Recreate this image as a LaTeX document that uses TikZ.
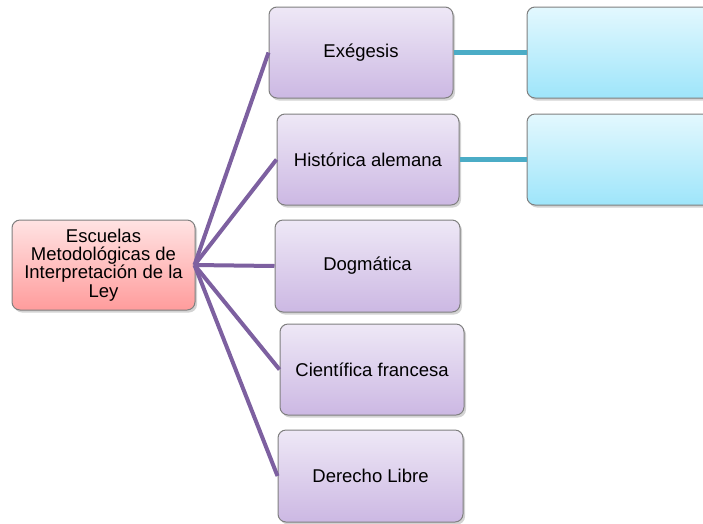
\documentclass[tikz,border=0pt]{standalone}
\usepackage{fontspec}
\setmainfont{Liberation Sans}
\usetikzlibrary{shadows}
\definecolor{purpTop}{HTML}{EEE8F6}
\definecolor{purpBot}{HTML}{CCB8E3}
\definecolor{pinkTop}{HTML}{FFE3E3}
\definecolor{pinkBot}{HTML}{FF9C9C}
\definecolor{blueTop}{HTML}{E3F8FE}
\definecolor{blueBot}{HTML}{9EE5FA}
\definecolor{edgeGrey}{HTML}{7F7F7F}
\definecolor{purpLine}{HTML}{7D60A0}
\definecolor{tealLine}{HTML}{4BACC6}
\tikzset{
  box/.style={draw=edgeGrey, line width=1pt, rounded corners=8pt, align=center,
    font=\fontsize{18.5}{22}\selectfont, inner sep=0pt,
    drop shadow={opacity=0.35, shadow xshift=2pt, shadow yshift=-2.5pt}},
  childbox/.style={box, top color=purpTop, bottom color=purpBot},
  rootbox/.style={box, top color=pinkTop, bottom color=pinkBot,
    font=\fontsize{18.5}{18.3}\selectfont},
  infobox/.style={box, top color=blueTop, bottom color=blueBot},
  purpconn/.style={draw=purpLine, line width=4pt},
  tealconn/.style={draw=tealLine, line width=5pt}
}
\begin{document}
\begin{tikzpicture}[x=1pt,y=-1pt]
\useasboundingbox (0,0) rectangle (703,523);
\node[rootbox, minimum width=183pt, minimum height=90pt] (root) at (103.5,265)
  {Escuelas\\Metodológicas de\\Interpretación de la\\Ley};
\node[childbox, minimum width=184pt, minimum height=91pt] (ex) at (361,52.5) {Exégesis};
\node[childbox, minimum width=182pt, minimum height=91pt] (hi) at (368,159.5) {Histórica alemana};
\node[childbox, minimum width=185pt, minimum height=92pt] (dog) at (367.5,266) {Dogmática};
\node[childbox, minimum width=184pt, minimum height=91pt] (cie) at (372,369.5) {Científica francesa};
\node[childbox, minimum width=185pt, minimum height=92pt] (der) at (370.5,476) {Derecho Libre};
\node[infobox, minimum width=185pt, minimum height=91pt] (b1) at (619.5,52.5) {};
\node[infobox, minimum width=185pt, minimum height=91pt] (b2) at (619.5,159.5) {};
\coordinate (hub) at ([xshift=-1pt]root.east);
\draw[purpconn] (hub) -- (ex.west);
\draw[purpconn] (hub) -- (hi.west);
\draw[purpconn] (hub) -- (dog.west);
\draw[purpconn] (hub) -- (cie.west);
\draw[purpconn] (hub) -- (der.west);
\draw[tealconn] (ex.east) -- (b1.west);
\draw[tealconn] (hi.east) -- (b2.west);
\end{tikzpicture}
\end{document}
